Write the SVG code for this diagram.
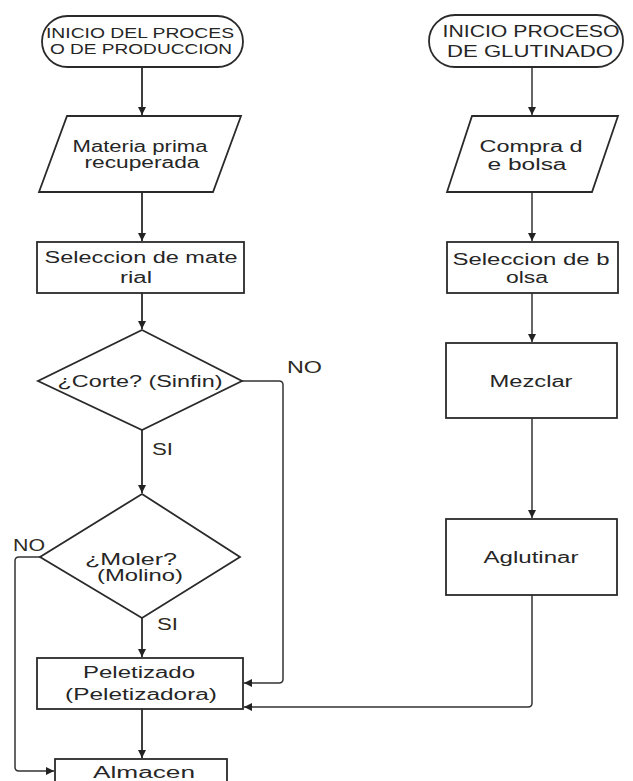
<svg xmlns="http://www.w3.org/2000/svg" width="633" height="781" viewBox="0 0 633 781">
<style>
.shape{fill:#fff;stroke:#2a2a2a;stroke-width:1.8}
.t{font-family:"Liberation Sans",Arial,sans-serif;font-size:16px;fill:#262626;text-anchor:middle}
.ts{font-size:15px}
.lbl{font-family:"Liberation Sans",Arial,sans-serif;font-size:16px;fill:#2e2a22}
.c{fill:none;stroke:#2a2a2a;stroke-width:1.8}
.c2{fill:none;stroke:#333;stroke-width:1.5}
</style>
<defs>
<marker id="ah" markerWidth="10" markerHeight="10" refX="8" refY="4" orient="auto" markerUnits="userSpaceOnUse">
<path d="M0,0 L8,4 L0,8 Z" fill="#222"/>
</marker>
</defs>
<rect width="633" height="781" fill="#fff"/>
<g id="connectors">
<path class="c" d="M142,67 V115" marker-end="url(#ah)"/>
<path class="c" d="M142,192 V241" marker-end="url(#ah)"/>
<path class="c" d="M142,293 V329" marker-end="url(#ah)"/>
<path class="c" d="M142,430 V493" marker-end="url(#ah)"/>
<path class="c" d="M142,618 V657" marker-end="url(#ah)"/>
<path class="c" d="M142,709 V758" marker-end="url(#ah)"/>
<path class="c2" d="M242,381 H279 Q283,381 283,385 V679 Q283,683 279,683 H244" marker-end="url(#ah)"/>
<path class="c2" d="M40,557 H19 Q15,557 15,561 V767 Q15,771 19,771 H54" marker-end="url(#ah)"/>
<path class="c2" d="M532,595 V703 Q532,707 528,707 H244" marker-end="url(#ah)"/>
<path class="c2" d="M532,67 V115" marker-end="url(#ah)"/>
<path class="c2" d="M532,192 V241" marker-end="url(#ah)"/>
<path class="c2" d="M532,293 V342" marker-end="url(#ah)"/>
<path class="c2" d="M532,418 V518" marker-end="url(#ah)"/>
</g>
<g id="inicio-produccion">
<rect class="shape" x="42" y="16" width="201" height="51" rx="25.5"/>
<text class="t ts" x="140" y="38" textLength="188" lengthAdjust="spacingAndGlyphs">INICIO DEL PROCES</text>
<text class="t ts" x="141" y="54" textLength="182" lengthAdjust="spacingAndGlyphs">O DE PRODUCCION</text>
</g>
<g id="materia-prima">
<polygon class="shape" points="67,116 241,116 213,192 39,192"/>
<text class="t" x="140" y="152" textLength="135" lengthAdjust="spacingAndGlyphs">Materia prima</text>
<text class="t" x="142" y="168" textLength="115" lengthAdjust="spacingAndGlyphs">recuperada</text>
</g>
<g id="seleccion-material">
<rect class="shape" x="37" y="242" width="207" height="51"/>
<text class="t" x="141" y="263" textLength="193" lengthAdjust="spacingAndGlyphs">Seleccion de mate</text>
<text class="t" x="136" y="283" textLength="32" lengthAdjust="spacingAndGlyphs">rial</text>
</g>
<g id="corte">
<polygon class="shape" points="142,330 242,381 142,430 38,381"/>
<text class="t" x="140" y="387" textLength="165" lengthAdjust="spacingAndGlyphs">¿Corte? (Sinfin)</text>
</g>
<g id="moler">
<polygon class="shape" points="142,494 240,557 142,618 40,557"/>
<text class="t" x="131" y="565" textLength="92" lengthAdjust="spacingAndGlyphs">¿Moler?</text>
<text class="t" x="140" y="581" textLength="86" lengthAdjust="spacingAndGlyphs">(Molino)</text>
</g>
<g id="labels">
<text class="lbl" x="287" y="373" textLength="35" lengthAdjust="spacingAndGlyphs">NO</text>
<text class="lbl" x="152" y="455" textLength="21" lengthAdjust="spacingAndGlyphs">SI</text>
<text class="lbl" x="13" y="551" textLength="32" lengthAdjust="spacingAndGlyphs">NO</text>
<text class="lbl" x="157" y="630" textLength="21" lengthAdjust="spacingAndGlyphs">SI</text>
</g>
<g id="peletizado">
<rect class="shape" x="37" y="658" width="206" height="51"/>
<text class="t" x="139" y="678" textLength="112" lengthAdjust="spacingAndGlyphs">Peletizado</text>
<text class="t" x="141" y="700" textLength="152" lengthAdjust="spacingAndGlyphs">(Peletizadora)</text>
</g>
<g id="almacen">
<rect class="shape" x="55" y="759" width="172" height="40"/>
<text class="t" x="144" y="778" textLength="102" lengthAdjust="spacingAndGlyphs">Almacen</text>
</g>
<g id="inicio-glutinado">
<rect class="shape" x="429" y="15" width="194" height="52" rx="26"/>
<text class="t" x="531" y="37" textLength="177" lengthAdjust="spacingAndGlyphs">INICIO PROCESO</text>
<text class="t" x="530" y="57" textLength="166" lengthAdjust="spacingAndGlyphs">DE GLUTINADO</text>
</g>
<g id="compra-bolsa">
<polygon class="shape" points="472,116 618,116 592,192 447,192"/>
<text class="t" x="531" y="152" textLength="103" lengthAdjust="spacingAndGlyphs">Compra d</text>
<text class="t" x="527" y="170" textLength="79" lengthAdjust="spacingAndGlyphs">e bolsa</text>
</g>
<g id="seleccion-bolsa">
<rect class="shape" x="447" y="242" width="171" height="51"/>
<text class="t" x="531" y="265" textLength="157" lengthAdjust="spacingAndGlyphs">Seleccion de b</text>
<text class="t" x="527" y="283" textLength="42" lengthAdjust="spacingAndGlyphs">olsa</text>
</g>
<g id="mezclar">
<rect class="shape" x="446" y="343" width="171" height="75"/>
<text class="t" x="531" y="387" textLength="83" lengthAdjust="spacingAndGlyphs">Mezclar</text>
</g>
<g id="aglutinar">
<rect class="shape" x="446" y="519" width="171" height="76"/>
<text class="t" x="531" y="563" textLength="95" lengthAdjust="spacingAndGlyphs">Aglutinar</text>
</g>
</svg>
